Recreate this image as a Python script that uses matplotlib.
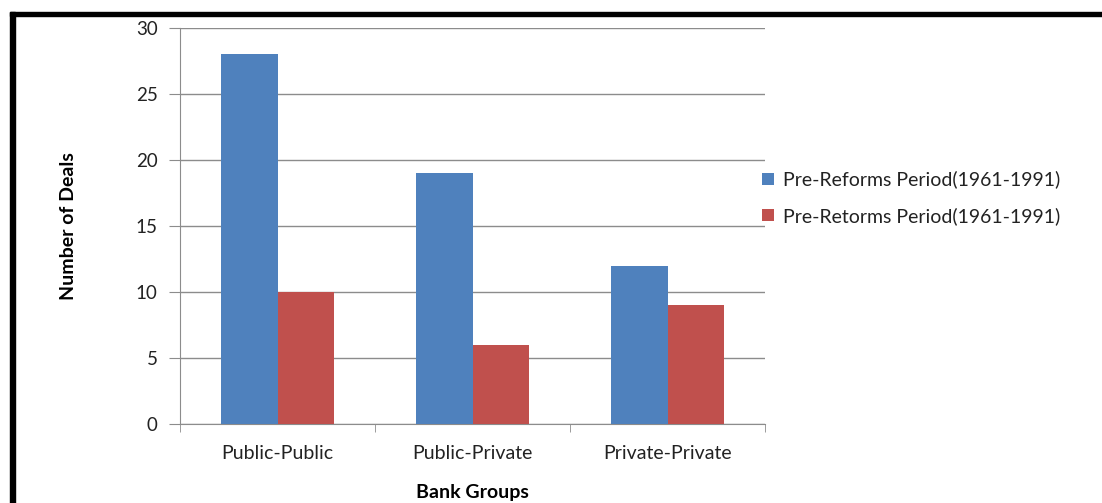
import numpy as np
import matplotlib.pyplot as plt
from matplotlib.patches import Rectangle

CATEGORIES = ["Public-Public", "Public-Private", "Private-Private"]
SERIES_NAMES = ["Pre-Reforms Period(1961-1991)", "Pre-Retorms Period(1961-1991)"]
PRE_REFORMS = [28, 19, 12]
POST_REFORMS = [10, 6, 9]
Y_TICKS = [0, 5, 10, 15, 20, 25, 30]

BLUE = "#4F81BD"
RED = "#C0504D"
GRID = "#8c8c8c"
TEXT = "#222222"

plt.rcParams["font.family"] = ["Lato", "DejaVu Sans"]

W, H = 1102, 503
fig = plt.figure(figsize=(W / 100, H / 100), dpi=100)
ax = fig.add_axes([180 / W, 1 - 424 / H, 585 / W, 396 / H])

x = np.arange(len(CATEGORIES))
bw = 0.29
ax.bar(x - bw / 2, PRE_REFORMS, bw, color=BLUE, label=SERIES_NAMES[0], zorder=3)
ax.bar(x + bw / 2, POST_REFORMS, bw, color=RED, label=SERIES_NAMES[1], zorder=3)

ax.set_xlim(-0.5, len(CATEGORIES) - 0.5)
ax.set_ylim(0, 30)
ax.set_yticks(Y_TICKS)
ax.set_yticklabels([str(v) for v in Y_TICKS], fontsize=13.5, color=TEXT)
ax.yaxis.grid(True, color=GRID, linewidth=1, zorder=0)
ax.tick_params(axis="y", length=8, color=GRID, pad=8)

ax.set_xticks(x)
ax.set_xticklabels(CATEGORIES, fontsize=14, color=TEXT)
ax.set_xticks(np.arange(-0.5, len(CATEGORIES)), minor=True)
ax.tick_params(axis="x", which="major", length=0, pad=15)
ax.tick_params(axis="x", which="minor", length=6, color=GRID)

for s in ["top", "right"]:
    ax.spines[s].set_visible(False)
for s in ["left", "bottom"]:
    ax.spines[s].set_color(GRID)

ax.set_ylabel("Number of Deals", fontsize=14, fontweight="bold", labelpad=42)
ax.set_xlabel("Bank Groups", fontsize=14, fontweight="bold", labelpad=16)

leg = ax.legend(loc="center left", bbox_to_anchor=(0.995, 0.571), frameon=False,
                fontsize=14, handlelength=0.6, handleheight=0.6, handletextpad=0.5,
                labelspacing=0.95, borderpad=0, borderaxespad=0)
for t in leg.get_texts():
    t.set_color(TEXT)

# black frame on top and left edges
fig.patches.append(Rectangle((10 / W, 1 - 16 / H), 1 - 10 / W, 4 / H,
                             transform=fig.transFigure, color="black", zorder=10))
fig.patches.append(Rectangle((10 / W, 0), 5 / W, 1 - 12 / H,
                             transform=fig.transFigure, color="black", zorder=10))

fig.savefig("out.png", dpi=100)
